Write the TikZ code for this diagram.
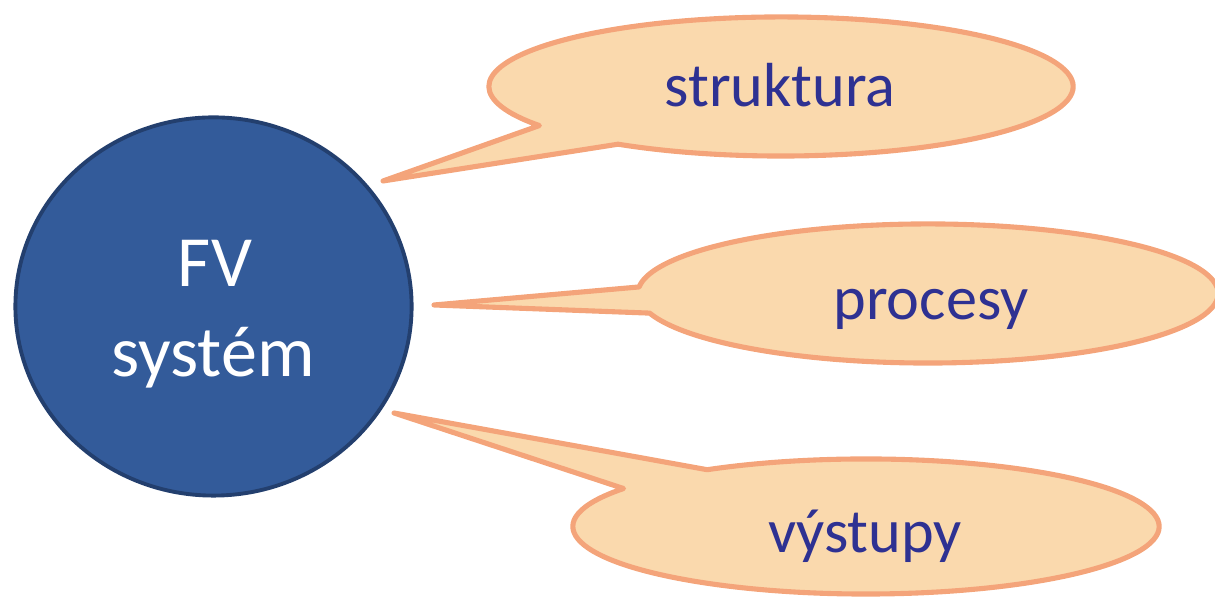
\documentclass[tikz,border=0pt]{standalone}
\usepackage{fontspec}
\setmainfont{Carlito}
\usetikzlibrary{shapes.geometric,calc}
\definecolor{peach}{HTML}{FAD9AD}
\definecolor{peachline}{HTML}{F4A47A}
\definecolor{fvblue}{HTML}{335B9A}
\definecolor{fvline}{HTML}{233F6E}
\definecolor{labelblue}{HTML}{2E3192}
\tikzset{
  callout/.style={fill=peach,draw=peachline,line width=1.45pt,line join=round},
  lbl/.style={anchor=base,text=labelblue,font=\fontsize{17.7}{21}\selectfont,inner sep=0pt},
  fvtext/.style={anchor=base,text=white,font=\fontsize{20.5}{25}\selectfont,inner sep=0pt}
}
\begin{document}
\begin{tikzpicture}[x=0.01cm,y=0.01cm]
\useasboundingbox (0,0) rectangle (1215,598);
% centres and tips
\coordinate (c1) at (781,511.5);
\coordinate (c2) at (928,304.5);
\coordinate (c3) at (866,71.5);
\coordinate (t1) at (383,417);
\coordinate (t2) at (434,293);
\coordinate (t3) at (394,185);
% callouts
\draw[callout] ($(c1)+(236.1:2.92cm and 0.695cm)$) arc[start angle=236.1,end angle=574.2,x radius=2.92cm,y radius=0.695cm] -- (t1) -- cycle;
\draw[callout] ($(c2)+(196.4:2.90cm and 0.695cm)$) arc[start angle=196.4,end angle=534.6,x radius=2.90cm,y radius=0.695cm] -- (t2) -- cycle;
\draw[callout] ($(c3)+(145.8:2.93cm and 0.675cm)$) arc[start angle=145.8,end angle=482.8,x radius=2.93cm,y radius=0.675cm] -- (t3) -- cycle;
% circle
\node[ellipse,fill=fvblue,draw=fvline,line width=1.1pt,minimum width=3.96cm,minimum height=3.78cm,inner sep=0pt] (fv) at (213.5,291.5) {};
\node[fvtext] (fv1) at (215,311) {FV};
\node[fvtext] (fv2) at (213,221) {systém};
% labels
\node[lbl] (l1) at (780,491) {struktura};
\node[lbl] (l2) at (931,278) {procesy};
\node[lbl] (l3) at (865,45) {výstupy};
\end{tikzpicture}
\end{document}
